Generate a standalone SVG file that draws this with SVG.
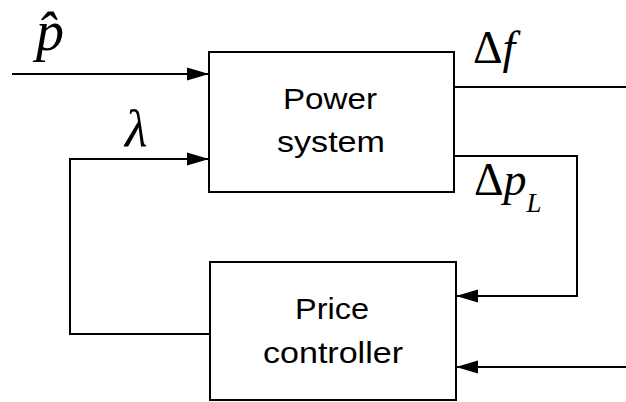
<svg xmlns="http://www.w3.org/2000/svg" width="626" height="402" viewBox="0 0 626 402">
<style>
.box{fill:#fff;stroke:#000;stroke-width:2}
.ln{fill:none;stroke:#000;stroke-width:2}
.arr{marker-end:url(#ah)}
.lbl{font-family:"Liberation Sans",Arial,sans-serif;font-size:30px;fill:#000;text-anchor:middle}
.math{font-family:"Liberation Serif","Times New Roman",serif;fill:#000}
</style>
<defs>
<marker id="ah" markerUnits="userSpaceOnUse" markerWidth="23" markerHeight="14" refX="22" refY="7" orient="auto">
<path d="M0,0.5 L22,7 L0,13.5 Z" fill="#000"/>
</marker>
</defs>
<g id="connectors">
<path class="ln arr" d="M12,74 H209"/>
<path class="ln arr" d="M210,334 H70 V159 H209"/>
<path class="ln" d="M454,87 H626"/>
<path class="ln arr" d="M454,156 H577 V296 H456"/>
<path class="ln arr" d="M626,367 H456"/>
</g>
<g id="power-system">
<rect class="box" x="209" y="52" width="245" height="140"/>
<text class="lbl" x="330" y="109" textLength="94" lengthAdjust="spacingAndGlyphs">Power</text>
<text class="lbl" x="331" y="152" textLength="108" lengthAdjust="spacingAndGlyphs">system</text>
</g>
<g id="price-controller">
<rect class="box" x="210" y="262" width="246" height="138"/>
<text class="lbl" x="332" y="319" textLength="74" lengthAdjust="spacingAndGlyphs">Price</text>
<text class="lbl" x="333" y="363" textLength="140" lengthAdjust="spacingAndGlyphs">controller</text>
</g>
<g id="labels">
<text class="math" x="36" y="50" font-size="56" font-style="italic">p̂</text>
<text class="math" x="125" y="146" font-size="52" font-style="italic">λ</text>
<text class="math" x="473" y="63" font-size="46">Δ<tspan font-style="italic">f</tspan></text>
<text class="math" x="474" y="195" font-size="46">Δ<tspan font-style="italic">p</tspan><tspan font-style="italic" font-size="27" dy="17">L</tspan></text>
</g>
</svg>
